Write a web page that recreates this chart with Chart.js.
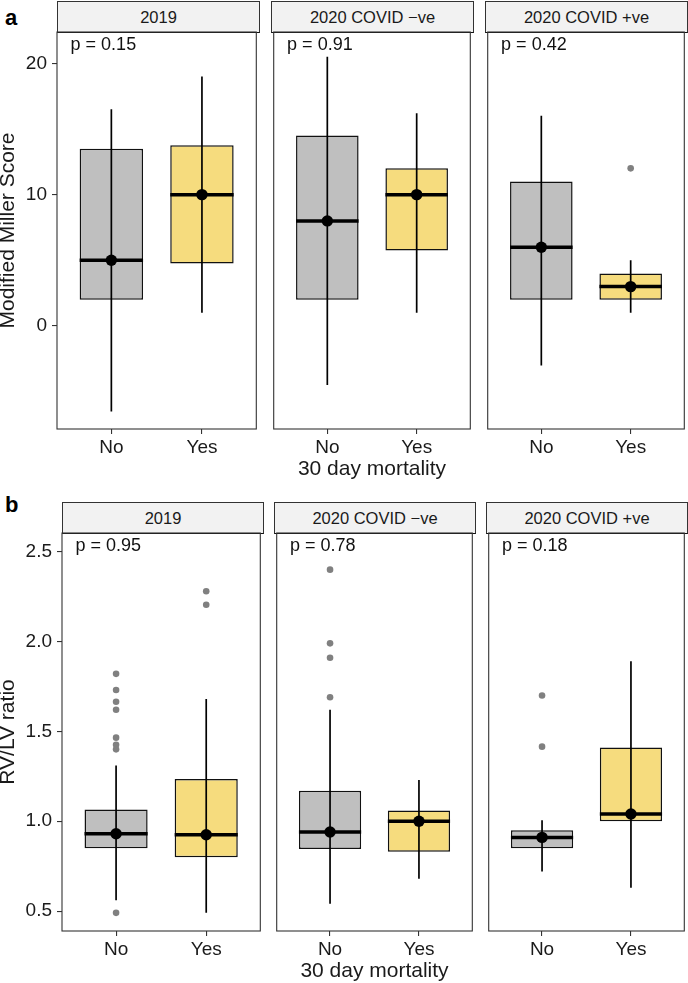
<!DOCTYPE html>
<html>
<head>
<meta charset="utf-8">
<script src="https://cdn.jsdelivr.net/npm/chart.js@4.4.1/dist/chart.umd.min.js"></script>
<style>
  body { margin: 0; background: #fff; font-family: "Liberation Sans", Arial, sans-serif; }
  #fig { position: relative; width: 688px; height: 983px; overflow: hidden; }
  canvas { position: absolute; }
  .strip { position: absolute; box-sizing: border-box; background: #f2f2f2; border: 1px solid #333;
           border-bottom: 1.5px solid #111; font-size: 16.5px; color: #1a1a1a;
           display: flex; align-items: center; justify-content: center; }
  .tag { position: absolute; font-weight: bold; font-size: 22px; line-height: 22px; color: #000; }
</style>
</head>
<body>
<div id="fig"></div>
<script>
const facets = ['2019', '2020 COVID \u2212ve', '2020 COVID +ve'];
const groups = ['No', 'Yes'];

// a: Modified Miller Score, one [No, Yes] pair per facet
const millerQ1 = [[2, 4.75], [2, 5.75], [2, 2]];
const millerMedian = [[5, 10], [8, 10], [6, 3]];
const millerQ3 = [[13.5, 13.75], [14.5, 12], [11, 4]];
const millerLow = [[-6.5, 1], [-4.5, 1], [-3, 1]];
const millerHigh = [[16.5, 19], [20.5, 16.2], [16, 5]];
const millerOutliers = [[[], []], [[], []], [[], [12]]];
const millerP = ['p = 0.15', 'p = 0.91', 'p = 0.42'];
const millerTicks = [0, 10, 20];
const millerTickLabels = ['0', '10', '20'];

// b: RV/LV ratio
const rvQ1 = [[0.85, 0.80], [0.845, 0.83], [0.85, 1.0]];
const rvMedian = [[0.93, 0.925], [0.94, 1.0], [0.91, 1.04]];
const rvQ3 = [[1.065, 1.235], [1.17, 1.06], [0.95, 1.41]];
const rvLow = [[0.56, 0.49], [0.54, 0.68], [0.72, 0.63]];
const rvHigh = [[1.31, 1.68], [1.62, 1.23], [1.005, 1.89]];
const rvOutliers = [
  [[1.82, 1.73, 1.665, 1.62, 1.465, 1.425, 1.40, 0.49], [2.28, 2.205]],
  [[2.40, 1.99, 1.91, 1.69], []],
  [[1.70, 1.415], []]
];
const rvP = ['p = 0.95', 'p = 0.78', 'p = 0.18'];
const rvTicks = [0.5, 1.0, 1.5, 2.0, 2.5];
const rvTickLabels = ['0.5', '1.0', '1.5', '2.0', '2.5'];

const FONT = '"Liberation Sans", Arial, sans-serif';
const boxFill = ['#BFBFBF', '#F6DC7E'];
Chart.defaults.font.family = FONT;

const rows = [
  { tag: 'a', tagTop: 7, top: 0, height: 480, padTop: 32, stripTop: 1,
    panels: [[57, 259], [271, 473], [485, 687]],
    yMin: -7.84, yMax: 22.38, yTitle: 'Modified Miller Score', pY: 21.39,
    ticks: millerTicks, tickLabels: millerTickLabels,
    q1: millerQ1, med: millerMedian, q3: millerQ3, low: millerLow, high: millerHigh,
    out: millerOutliers, p: millerP },
  { tag: 'b', tagTop: 494, top: 500, height: 482, padTop: 33, stripTop: 502,
    panels: [[62, 263], [274, 475], [486, 687]],
    yMin: 0.389, yMax: 2.604, yTitle: 'RV/LV ratio', pY: 2.531,
    ticks: rvTicks, tickLabels: rvTickLabels,
    q1: rvQ1, med: rvMedian, q3: rvQ3, low: rvLow, high: rvHigh,
    out: rvOutliers, p: rvP }
];

// p value text, placed in data units
const pLabel = {
  id: 'pLabel',
  afterDatasetsDraw(chart, args, opts) {
    const { ctx, scales: { x, y } } = chart;
    ctx.save();
    ctx.font = '18px ' + FONT;
    ctx.fillStyle = '#111';
    ctx.textBaseline = 'middle';
    ctx.fillText(opts.text, x.getPixelForValue(opts.x), y.getPixelForValue(opts.y));
    ctx.restore();
  }
};

// panel border
const frame = {
  id: 'frame',
  afterDraw(chart) {
    const { ctx, chartArea: a } = chart;
    ctx.save();
    ctx.strokeStyle = '#333';
    ctx.lineWidth = 1.1;
    ctx.strokeRect(a.left, a.top, a.right - a.left, a.bottom - a.top);
    ctx.restore();
  }
};

const fig = document.getElementById('fig');

function drawPanel(row, k) {
  const [pl, pr] = row.panels[k];
  const first = k === 0;
  const cLeft = first ? 0 : pl - 3;
  const cWidth = first ? pr + 3 : pr - pl + 6;

  const strip = document.createElement('div');
  strip.className = 'strip';
  strip.textContent = facets[k];
  strip.style.left = pl + 'px';
  strip.style.width = (pr - pl + 1) + 'px';
  strip.style.top = row.stripTop + 'px';
  strip.style.height = (row.top + row.padTop - row.stripTop + 1) + 'px';
  fig.appendChild(strip);

  const canvas = document.createElement('canvas');
  canvas.width = cWidth;
  canvas.height = row.height;
  canvas.style.left = cLeft + 'px';
  canvas.style.top = row.top + 'px';
  fig.appendChild(canvas);

  const datasets = [];
  datasets.push({
    type: 'bar',
    data: groups.map((g, i) => ({ x: i + 1, y: [row.q1[k][i], row.q3[k][i]] })),
    backgroundColor: boxFill,
    borderColor: '#111',
    borderWidth: 1.5,
    borderSkipped: false,
    categoryPercentage: 1,
    barPercentage: 0.7,
    order: 5
  });
  groups.forEach((g, i) => {
    datasets.push({
      type: 'line',
      data: [{ x: i + 1, y: row.low[k][i] }, { x: i + 1, y: row.high[k][i] }],
      borderColor: '#000', borderWidth: 1.7, pointRadius: 0, order: 4
    });
    datasets.push({
      type: 'line',
      data: [{ x: i + 1 - 0.35, y: row.med[k][i] }, { x: i + 1 + 0.35, y: row.med[k][i] }],
      borderColor: '#000', borderWidth: 3.5, pointRadius: 0, order: 3
    });
  });
  const outPts = [];
  groups.forEach((g, i) => row.out[k][i].forEach(v => outPts.push({ x: i + 1, y: v })));
  datasets.push({
    type: 'scatter', data: outPts,
    backgroundColor: '#808080', borderWidth: 0, pointRadius: 3.3, order: 2
  });
  datasets.push({
    type: 'scatter',
    data: groups.map((g, i) => ({ x: i + 1, y: row.med[k][i] })),
    backgroundColor: '#000', borderWidth: 0, pointRadius: 5.7, order: 1
  });

  new Chart(canvas, {
    type: 'bar',
    data: { datasets },
    plugins: [pLabel, frame],
    options: {
      responsive: false,
      animation: false,
      devicePixelRatio: 1,
      layout: { padding: { left: first ? 0 : 3, right: 3, top: row.padTop, bottom: 0 } },
      plugins: {
        legend: { display: false },
        tooltip: { enabled: false },
        pLabel: { text: row.p[k], x: 0.55, y: row.pY }
      },
      scales: {
        x: {
          type: 'linear', min: 0.4, max: 2.6, offset: false,
          afterBuildTicks: s => { s.ticks = groups.map((g, i) => ({ value: i + 1 })); },
          afterFit: s => { s.height = 51; },
          ticks: { callback: v => groups[v - 1], font: { size: 19 }, color: '#1a1a1a',
                   padding: 2, maxRotation: 0, autoSkip: false },
          grid: { drawOnChartArea: false, drawTicks: true, tickLength: 5, color: '#333',
                  lineWidth: 1.1, offset: false },
          border: { display: false },
          title: { display: k === 1, text: '30 day mortality', color: '#1a1a1a',
                   font: { size: 21, lineHeight: 1 }, padding: 0 }
        },
        y: {
          type: 'linear', min: row.yMin, max: row.yMax, display: first, beginAtZero: false,
          afterBuildTicks: s => { s.ticks = row.ticks.map(v => ({ value: v })); },
          afterFit: s => { s.width = first ? pl : 0; },
          ticks: { callback: (v, i) => row.tickLabels[i], font: { size: 19 }, color: '#1a1a1a',
                   padding: 5 },
          grid: { drawOnChartArea: false, drawTicks: true, tickLength: 5, color: '#333', lineWidth: 1.1 },
          border: { display: false },
          title: { display: true, text: row.yTitle, color: '#1a1a1a',
                   font: { size: 21, lineHeight: 1 }, padding: { top: -2, bottom: 0 } }
        }
      }
    }
  });
}

rows.forEach(row => {
  const tag = document.createElement('div');
  tag.className = 'tag';
  tag.textContent = row.tag;
  tag.style.left = '5px';
  tag.style.top = row.tagTop + 'px';
  fig.appendChild(tag);
  facets.forEach((f, k) => drawPanel(row, k));
});
</script>
</body>
</html>
